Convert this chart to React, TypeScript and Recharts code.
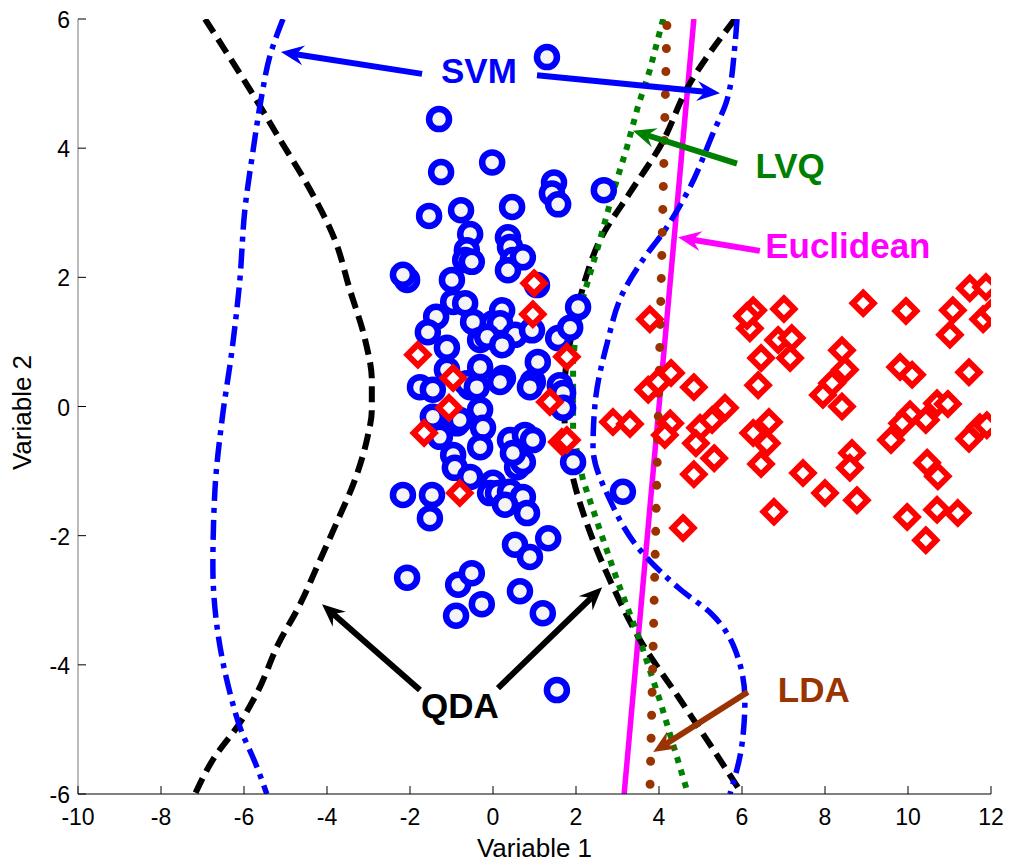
import { ComposedChart, Line, Scatter, XAxis, YAxis, ReferenceLine, ReferenceDot, Label } from "recharts"

const FONT = "'Liberation Sans', Arial, Helvetica, sans-serif"

const xTicks = [-10, -8, -6, -4, -2, 0, 2, 4, 6, 8, 10, 12]
const yTicks = [-6, -4, -2, 0, 2, 4, 6]

// class 1 (blue circles), [variable 1, variable 2]
const circlePoints: [number, number][] = [
  [1.30, 5.41], [-1.30, 4.45], [-1.25, 3.63], [-0.02, 3.78], [1.47, 3.47], [1.42, 3.30],
  [1.57, 3.13], [2.67, 3.35], [-1.54, 2.95], [-0.77, 3.04], [0.46, 3.09], [-0.55, 2.67],
  [0.36, 2.62], [-0.63, 2.42], [0.41, 2.47], [-0.67, 2.27], [-0.51, 2.24], [0.48, 2.27],
  [0.36, 2.11], [0.72, 2.31], [-2.07, 1.96], [-2.17, 2.04], [-0.99, 1.96], [1.06, 1.88],
  [-0.96, 1.62], [-0.67, 1.60], [-1.37, 1.39], [-1.57, 1.15], [-1.11, 0.91], [-0.48, 1.31],
  [-0.31, 1.03], [0.00, 1.29], [0.22, 1.49], [0.17, 1.29], [-0.14, 1.08], [0.53, 1.11],
  [0.94, 1.18], [1.57, 1.06], [1.86, 1.22], [2.05, 1.54], [0.22, 0.95], [1.08, 0.69],
  [-0.31, 0.61], [-1.11, 0.57], [0.24, 0.44], [0.96, 0.38], [1.61, 0.33], [-1.76, 0.30],
  [-1.45, 0.26], [-0.55, 0.30], [-0.31, -0.05], [-0.87, -0.26], [-0.24, -0.33], [-0.31, -0.63],
  [-1.28, -0.47], [-0.96, -0.75], [-0.92, -0.95], [-0.55, -1.09], [0.00, -1.18], [-0.07, -1.34],
  [-2.17, -1.37], [-1.47, -1.37], [-1.52, -1.73], [0.17, 0.38], [0.89, 0.30], [1.69, 0.21],
  [1.69, -0.02], [0.41, -0.52], [0.77, -0.44], [0.96, -0.52], [1.93, -0.86], [0.58, -0.94],
  [0.72, -0.86], [0.12, -1.34], [0.41, -1.32], [0.72, -1.40], [0.29, -1.52], [0.82, -1.65],
  [0.53, -2.14], [0.89, -2.33], [1.33, -2.04], [-2.07, -2.65], [-0.84, -2.76], [-0.51, -2.58],
  [-0.89, -3.24], [-0.27, -3.06], [0.65, -2.86], [1.20, -3.20], [1.54, -4.39], [3.13, -1.32],
  [0.48, -0.72], [-0.80, -0.21], [-1.45, -0.16], [-0.63, 0.36], [-0.39, 0.30],
]

// class 2 (red diamonds)
const diamondPoints: [number, number][] = [
  [0.99, 1.91], [0.96, 1.43], [-1.81, 0.80], [-0.96, 0.44], [-1.06, -0.02], [-1.66, -0.41],
  [1.37, 0.07], [1.78, 0.77], [1.66, -0.55], [1.78, -0.52], [-0.80, -1.34], [2.89, -0.24],
  [3.78, 1.35], [4.29, 0.52], [3.74, 0.26], [3.98, 0.38], [4.84, 0.30], [3.30, -0.27],
  [4.27, -0.26], [4.14, -0.44], [4.99, -0.33], [5.28, -0.21], [5.59, -0.02], [4.89, -0.57],
  [5.33, -0.80], [4.84, -1.05], [4.58, -1.88], [6.27, 1.49], [6.19, 1.21], [6.12, 1.40],
  [7.01, 1.51], [6.87, 1.03], [7.20, 1.06], [7.16, 0.75], [6.46, 0.75], [6.39, 0.33],
  [6.65, -0.24], [6.27, -0.41], [6.60, -0.57], [6.46, -0.89], [7.47, -1.03], [6.77, -1.63],
  [8.92, 1.60], [9.95, 1.48], [11.49, 1.83], [11.88, 1.85], [11.08, 1.49], [11.01, 1.11],
  [11.81, 1.35], [12.02, 1.46], [8.41, 0.87], [8.48, 0.57], [8.17, 0.36], [7.95, 0.18],
  [8.41, 0.00], [9.81, 0.61], [10.10, 0.49], [11.47, 0.53], [10.70, 0.05], [10.96, 0.04],
  [10.05, -0.12], [10.43, -0.21], [9.86, -0.26], [9.59, -0.52], [11.73, -0.32], [11.90, -0.29],
  [11.47, -0.50], [8.00, -1.34], [8.65, -0.72], [8.60, -0.95], [8.77, -1.45], [10.46, -0.87],
  [10.72, -1.08], [9.98, -1.71], [10.70, -1.60], [11.20, -1.65], [10.43, -2.07],
]

// decision boundaries, listed top to bottom
const qdaLeft: [number, number][] = [
  [-6.94, 6.0], [-6.46, 5.52], [-5.86, 4.91], [-5.13, 4.13], [-4.41, 3.36], [-3.81, 2.58],
  [-3.45, 1.81], [-3.08, 1.03], [-2.92, 0.41], [-2.92, -0.05], [-3.04, -0.52], [-3.33, -1.14],
  [-3.74, -1.76], [-4.17, -2.38], [-4.72, -3.15], [-5.13, -3.62], [-5.69, -4.44], [-6.10, -4.90],
  [-6.75, -5.47], [-7.18, -6.0],
]
const qdaRight: [number, number][] = [
  [5.83, 6.0], [4.75, 5.01], [4.02, 4.02], [3.30, 3.31], [2.58, 2.58], [2.22, 1.96],
  [1.98, 1.34], [1.78, 0.72], [1.71, 0.10], [1.76, -0.52], [1.90, -1.03], [2.41, -2.07],
  [2.89, -2.79], [3.54, -3.61], [4.51, -4.54], [5.47, -5.47], [6.0, -6.0],
]
const svmLeft: [number, number][] = [
  [-5.06, 6.0], [-5.37, 5.44], [-5.59, 4.75], [-5.78, 3.97], [-5.98, 3.04], [-6.10, 1.96],
  [-6.29, 0.87], [-6.53, -0.21], [-6.70, -1.29], [-6.75, -2.48], [-6.65, -3.41], [-6.34, -4.43],
  [-6.10, -4.96], [-5.69, -5.58], [-5.45, -6.0],
]
const svmRight: [number, number][] = [
  [5.88, 6.0], [5.83, 5.60], [5.64, 4.75], [5.30, 4.23], [4.75, 3.40], [4.14, 2.73],
  [3.61, 2.27], [3.13, 1.76], [2.75, 0.98], [2.46, 0.05], [2.41, -0.63], [2.82, -1.45],
  [3.54, -2.22], [4.51, -2.83], [5.28, -3.22], [5.83, -3.76], [6.07, -4.54], [6.0, -5.23],
  [5.71, -6.0],
]
const lvqBoundary: [number, number][] = [
  [4.10, 6.0], [3.78, 5.21], [3.49, 4.64], [3.23, 4.02], [2.89, 3.31], [2.53, 2.47],
  [2.17, 1.69], [1.98, 1.03], [1.93, 0.72], [1.93, -0.41], [2.17, -1.14], [2.58, -1.92],
  [2.99, -2.69], [3.54, -3.62], [4.02, -4.55], [4.70, -6.0],
]
const euclideanBoundary: [number, number][] = [[4.84, 6.0], [3.16, -6.0]]
const ldaBoundary: [number, number][] = [[4.19, 5.9], [3.78, -6.0]]

// annotation texts and arrows: [tail x, tail y, tip x, tip y]
const labels = [
  { text: "SVM", x: -0.34, y: 5.2, color: "#0000ff" },
  { text: "LVQ", x: 7.16, y: 3.72, color: "#008000" },
  { text: "Euclidean", x: 8.55, y: 2.48, color: "#ff00ff" },
  { text: "QDA", x: -0.8, y: -4.64, color: "#000000" },
  { text: "LDA", x: 7.73, y: -4.39, color: "#993300" },
]
const arrows = [
  { seg: [-1.71, 5.15, -5.11, 5.49], color: "#0000ff" },
  { seg: [1.06, 5.13, 5.47, 4.85], color: "#0000ff" },
  { seg: [5.88, 3.76, 3.37, 4.27], color: "#008000" },
  { seg: [6.43, 2.41, 4.46, 2.62], color: "#ff00ff" },
  { seg: [-1.76, -4.39, -4.12, -3.06], color: "#000000" },
  { seg: [0.12, -4.36, 2.63, -2.80], color: "#000000" },
  { seg: [6.14, -4.42, 3.86, -5.35], color: "#993300" },
]

const toXY = (pts: [number, number][]) => pts.map(([x, y]) => ({ x, y }))

function XTick(props: any) {
  const { x, y, payload } = props
  return (
    <g>
      <line x1={x} y1={y} x2={x} y2={y - 8} stroke="#000" />
      <text x={x} y={y + 31} textAnchor="middle" fontSize={23} fill="#000" fontFamily={FONT}>
        {payload.value}
      </text>
    </g>
  )
}

function YTick(props: any) {
  const { x, y, payload } = props
  return (
    <g>
      <line x1={x} y1={y} x2={x + 8} y2={y} stroke="#000" />
      <text x={x - 8} y={y + 9} textAnchor="end" fontSize={23} fill="#000" fontFamily={FONT}>
        {payload.value}
      </text>
    </g>
  )
}

const CircleMark = (p: any) => (
  <circle cx={p.cx} cy={p.cy} r={10} fill="#f4f4f4" stroke="#0000ff" strokeWidth={6.5} />
)

const DiamondMark = (p: any) => {
  const s = 10.5
  return (
    <path
      d={`M${p.cx},${p.cy - s}L${p.cx + s},${p.cy}L${p.cx},${p.cy + s}L${p.cx - s},${p.cy}Z`}
      fill="#ffffff"
      stroke="#ff0000"
      strokeWidth={6}
    />
  )
}

const arrowShape = (color: string) => (p: any) => {
  const { x1, y1, x2, y2 } = p
  const a = Math.atan2(y2 - y1, x2 - x1)
  const c = Math.cos(a)
  const s = Math.sin(a)
  const L = 23
  const W = 10
  const N = 15
  const bx = x2 - L * c
  const by = y2 - L * s
  const nx = x2 - N * c
  const ny = y2 - N * s
  const pts = `${x2},${y2} ${bx - W * s},${by + W * c} ${nx},${ny} ${bx + W * s},${by - W * c}`
  return (
    <g>
      <line x1={x1} y1={y1} x2={nx} y2={ny} stroke={color} strokeWidth={6} />
      <polygon points={pts} fill={color} />
    </g>
  )
}

const textShape = (text: string, color: string) => (p: any) => (
  <text
    x={p.cx}
    y={p.cy + 12}
    textAnchor="middle"
    fontSize={35}
    fontWeight="bold"
    fill={color}
    fontFamily={FONT}
  >
    {text}
  </text>
)

export default function App() {
  return (
    <div style={{ position: "absolute", left: 0, top: 0, width: 1019, height: 865, background: "#fff" }}>
      <ComposedChart
        width={1019}
        height={865}
        margin={{ top: 19, right: 28, bottom: 11, left: 18 }}
        style={{ fontFamily: FONT }}
      >
        <XAxis
          type="number"
          dataKey="x"
          domain={[-10, 12]}
          ticks={xTicks}
          allowDataOverflow
          height={60}
          tickSize={0}
          tickMargin={0}
          tickLine={false}
          axisLine={{ stroke: "#000" }}
          tick={<XTick />}
          interval={0}
        >
          <Label
            content={(p: any) => {
              const vb = p.viewBox
              return (
                <text x={vb.x + vb.width / 2} y={vb.y + 63} textAnchor="middle" fontSize={26} fill="#000" fontFamily={FONT}>
                  Variable 1
                </text>
              )
            }}
          />
        </XAxis>
        <YAxis
          type="number"
          dataKey="y"
          domain={[-6, 6]}
          ticks={yTicks}
          allowDataOverflow
          width={60}
          tickSize={0}
          tickMargin={0}
          tickLine={false}
          axisLine={{ stroke: "#777" }}
          tick={<YTick />}
          interval={0}
        >
          <Label
            content={(p: any) => {
              const vb = p.viewBox
              const cx = vb.x + 13
              const cy = vb.y + vb.height / 2 + 6
              return (
                <text x={cx} y={cy} transform={`rotate(-90, ${cx}, ${cy})`} textAnchor="middle" fontSize={26} fill="#000" fontFamily={FONT}>
                  Variable 2
                </text>
              )
            }}
          />
        </YAxis>

        <Line data={toXY(euclideanBoundary)} dataKey="y" type="linear" stroke="#ff00ff" strokeWidth={5.5} dot={false} activeDot={false} isAnimationActive={false} />

        <Scatter data={toXY(circlePoints)} dataKey="y" shape={CircleMark} isAnimationActive={false} />
        <Scatter data={toXY(diamondPoints)} dataKey="y" shape={DiamondMark} isAnimationActive={false} />

        <Line data={toXY(qdaLeft)} dataKey="y" type="monotoneY" stroke="#000" strokeWidth={6} strokeDasharray="16 8" dot={false} activeDot={false} isAnimationActive={false} />
        <Line data={toXY(qdaRight)} dataKey="y" type="monotoneY" stroke="#000" strokeWidth={6} strokeDasharray="16 8" dot={false} activeDot={false} isAnimationActive={false} />
        <Line data={toXY(svmLeft)} dataKey="y" type="monotoneY" stroke="#0000ff" strokeWidth={5.5} strokeDasharray="20 7 5 7" dot={false} activeDot={false} isAnimationActive={false} />
        <Line data={toXY(svmRight)} dataKey="y" type="monotoneY" stroke="#0000ff" strokeWidth={5.5} strokeDasharray="20 7 5 7" dot={false} activeDot={false} isAnimationActive={false} />
        <Line data={toXY(lvqBoundary)} dataKey="y" type="linear" stroke="#008000" strokeWidth={6} strokeDasharray="6 7" dot={false} activeDot={false} isAnimationActive={false} />
        <Line data={toXY(ldaBoundary)} dataKey="y" type="linear" stroke="#993300" strokeWidth={9} strokeLinecap="round" strokeDasharray="0 23" dot={false} activeDot={false} isAnimationActive={false} />

        {arrows.map((a, i) => (
          <ReferenceLine
            key={"arrow" + i}
            segment={[{ x: a.seg[0], y: a.seg[1] }, { x: a.seg[2], y: a.seg[3] }]}
            stroke={a.color}
            ifOverflow="visible"
            shape={arrowShape(a.color)}
          />
        ))}
        {labels.map((l) => (
          <ReferenceDot key={l.text} x={l.x} y={l.y} r={0} ifOverflow="visible" shape={textShape(l.text, l.color)} />
        ))}
      </ComposedChart>
    </div>
  )
}
